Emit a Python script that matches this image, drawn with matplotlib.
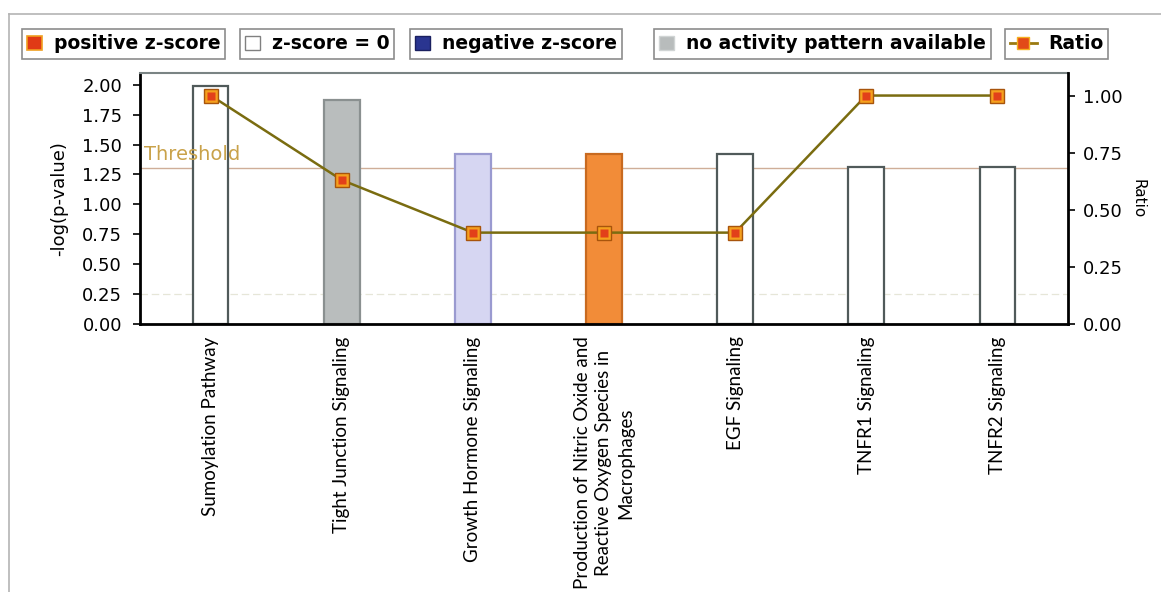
import matplotlib
matplotlib.use("Agg")
import matplotlib.pyplot as plt
from matplotlib.patches import Patch
from matplotlib.lines import Line2D

# Pathways and their values
pathways = [
    "Sumoylation Pathway",
    "Tight Junction Signaling",
    "Growth Hormone Signaling",
    "Production of Nitric Oxide and\nReactive Oxygen Species in\nMacrophages",
    "EGF Signaling",
    "TNFR1 Signaling",
    "TNFR2 Signaling",
]
neg_log_p = [1.99, 1.875, 1.42, 1.42, 1.42, 1.31, 1.31]
ratio = [1.00, 0.63, 0.40, 0.40, 0.40, 1.00, 1.00]
threshold = 1.30
left_ticks = [0.00, 0.25, 0.50, 0.75, 1.00, 1.25, 1.50, 1.75, 2.00]
right_ticks = [0.00, 0.25, 0.50, 0.75, 1.00]

bar_faces = ["white", "#b9bdbd", "#d6d6f2", "#f28c38", "white", "white", "white"]
bar_edges = ["#505a5a", "#8a9090", "#9a9ad0", "#c86a20", "#505a5a", "#505a5a", "#505a5a"]

fig = plt.figure(figsize=(11.61, 5.92), dpi=100)
ax = fig.add_axes([140 / 1161, 1 - 324 / 592, (1068 - 140) / 1161, (324 - 72.7) / 592])

x = list(range(len(pathways)))
ax.bar(x, neg_log_p, width=0.27, color=bar_faces, edgecolor=bar_edges, linewidth=1.6, zorder=2)

ax.set_xlim(-0.54, 6.54)
ax.set_ylim(0, 2.1)
ax.set_yticks(left_ticks)
ax.set_yticklabels([f"{v:.2f}" for v in left_ticks], fontsize=13, family="DejaVu Sans")
ax.set_xticks(x)
ax.set_xticklabels(pathways, rotation=90, fontsize=13.5, family="Lato",
                   va="top", ha="center", linespacing=1.35)
ax.tick_params(axis="x", length=0, pad=9)
ax.tick_params(axis="y", length=5, width=1.2, pad=8, colors="black")
ax.set_ylabel("-log(p-value)", fontsize=13, family="DejaVu Sans", labelpad=10)

# faint reference gridline
ax.axhline(0.25, color="#e6e6d8", linewidth=0.9, linestyle=(0, (6, 3)), zorder=1)

# threshold
ax.axhline(threshold, color="#cfae98", linewidth=1.0, zorder=1)
ax.text(0.004, threshold + 0.04, "Threshold", transform=ax.get_yaxis_transform(),
        color="#c9a24a", fontsize=14, family="DejaVu Sans", va="bottom", ha="left")

for side in ["left", "bottom"]:
    ax.spines[side].set_color("black")
    ax.spines[side].set_linewidth(2)
ax.spines["top"].set_color("#7a8484")
ax.spines["top"].set_linewidth(1.5)
ax.spines["right"].set_visible(False)

# ratio on secondary axis
ax2 = ax.twinx()
ax2.set_ylim(0, 1.1)
ax2.set_yticks(right_ticks)
ax2.set_yticklabels([f"{v:.2f}" for v in right_ticks], fontsize=13, family="DejaVu Sans")
ax2.tick_params(axis="y", length=5, width=1.2, pad=6)
ax2.spines["right"].set_color("black")
ax2.spines["right"].set_linewidth(2)
for side in ["left", "top", "bottom"]:
    ax2.spines[side].set_visible(False)
ax2.plot(x, ratio, color="#7a6c10", linewidth=1.8, zorder=3)
ax2.plot(x, ratio, linestyle="none", marker="s", markersize=10.5,
         markerfacecolor="#f5a01e", markeredgecolor="#a8540c", markeredgewidth=1.0, zorder=4)
ax2.plot(x, ratio, linestyle="none", marker="s", markersize=5.5,
         markerfacecolor="#e2401a", markeredgecolor="none", zorder=5)
ax2.set_ylabel("Ratio", fontsize=11, family="DejaVu Sans", rotation=270, labelpad=16)

# legend row
legend_items = [
    (Patch(facecolor="#e03a16", edgecolor="#f0a020", linewidth=1.2), "positive z-score", 22),
    (Patch(facecolor="white", edgecolor="#808080", linewidth=1.0), "z-score = 0", 240),
    (Patch(facecolor="#2a3590", edgecolor="#1a2060", linewidth=1.0), "negative z-score", 410),
    (Patch(facecolor="#b8bcbc", edgecolor="#d0d4d4", linewidth=1.0), "no activity pattern available", 654),
    (Line2D([0], [0], color="#9a7a10", linewidth=2, marker="s", markersize=9,
            markerfacecolor="#e24a18", markeredgecolor="#f5b020"), "Ratio", 1005),
]
for handle, label, xpix in legend_items:
    leg = fig.legend(handles=[handle], labels=[label], loc="upper left",
                     bbox_to_anchor=(xpix / 1161, 1 - 29 / 592),
                     frameon=True, fancybox=False, borderaxespad=0,
                     prop={"family": "DejaVu Sans", "size": 13.5, "weight": "bold"},
                     handlelength=0.8 if label != "Ratio" else 1.4, handleheight=0.75,
                     handletextpad=0.6, borderpad=0.28)
    leg.get_frame().set_edgecolor("#707070")
    leg.get_frame().set_linewidth(1.2)

# outer frame
fig.add_artist(Line2D([9 / 1161, 1.0], [1 - 14 / 592, 1 - 14 / 592],
                      transform=fig.transFigure, color="#b4b4b4", linewidth=1.2))
fig.add_artist(Line2D([9 / 1161, 9 / 1161], [0.0, 1 - 14 / 592],
                      transform=fig.transFigure, color="#b4b4b4", linewidth=1.2))

fig.savefig("out.png", dpi=100, facecolor="white")
